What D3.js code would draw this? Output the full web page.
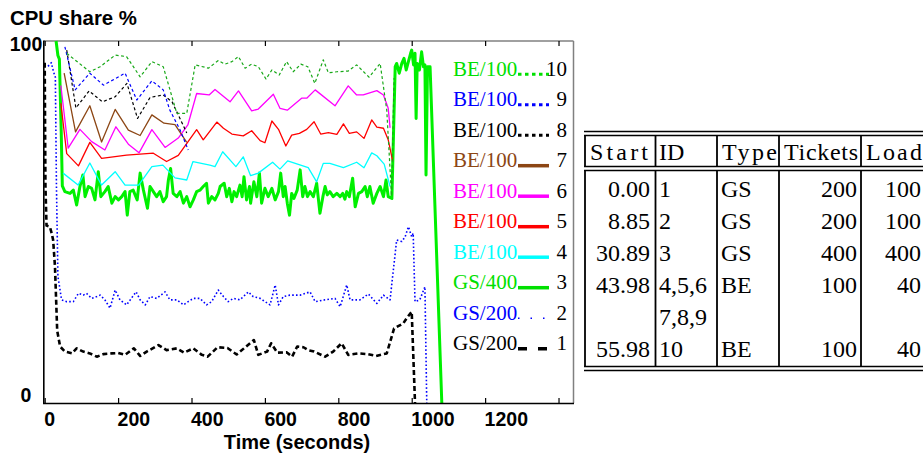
<!DOCTYPE html>
<html><head><meta charset="utf-8">
<script src="https://cdn.jsdelivr.net/npm/d3@7"></script>
<style>body{margin:0;background:#fff} svg{display:block}</style>
</head><body><svg id="c" width="923" height="459"></svg>
<script>
// ---------- data ----------
const xTicks = [0,200,400,600,800,1000,1200,1400];
const xTickLabels = ["0","200","400","600","800","1000","1200",""];
const yTicks = [0,100];
const yTickLabels = ["0","100"];

const gs1 = [[0,94],[2,60],[5,49],[14,48.7],[19,46.9],[23,45],[28,37.7],[34,20],[42,15.6],[55,14.2],[74,13.7],[87,15.1],[105,14.2],[123,13.7],[142,12.8],[160,13.5],[183,13.7],[200,13.8],[219,13.3],[243,15.1],[260,13.0],[278,14.2],[310,16.0],[332,14.6],[360,15.1],[380,13.9],[405,15.1],[428,13.3],[444,12.8],[471,15.4],[498,15.2],[523,13.4],[543,15.1],[570,17.4],[582,13.3],[606,14.2],[617,16.5],[634,13.9],[659,14.0],[674,12.8],[688,15.6],[705,15.4],[718,14.6],[734,14.2],[764,12.8],[786,14.2],[809,16.5],[827,13.3],[855,13.7],[880,13.5],[903,13.0],[932,13.7],[952,20.6],[977,22.0],[986,23.4],[1000,25.2],[1009,0]];
const gs2 = [[9,93],[18,94],[24,91.5],[29,90],[32,60],[36,35],[46,28.5],[60,28.0],[78,28.0],[92,30.3],[105,29.8],[114,30.3],[128,28.9],[142,29.4],[151,29.8],[164,28.5],[178,26.2],[192,31.2],[205,28.5],[223,27.1],[249,30.7],[260,28.5],[274,27.1],[287,29.4],[305,28.9],[328,30.7],[341,28.5],[360,28.5],[378,27.1],[391,28.0],[405,28.9],[423,28.9],[441,27.1],[455,28.0],[473,31.2],[487,29.4],[500,28.0],[514,28.9],[532,28.5],[555,30.7],[568,29.4],[587,28.9],[614,27.1],[628,32.6],[637,27.1],[650,29.4],[668,29.8],[696,29.8],[723,30.7],[737,28.0],[764,28.5],[791,28.9],[805,26.6],[823,32.6],[832,28.5],[859,28.5],[882,30.1],[905,27.5],[923,29.8],[941,28.5],[959,45.0],[973,44.6],[982,45.9],[991,48.7],[1000,45.9],[1004,46.9],[1009,28.0],[1022,28.5],[1036,32.1],[1041,0]];
const gs3 = [[31,100],[36,96],[40,95],[45,75],[48,60],[55,58.4],[69,57.9],[78,58.8],[87,54.7],[96,59.8],[104,63.0],[110,57.0],[119,59.8],[128,59.3],[137,56.1],[146,63.9],[153,57.0],[164,58.4],[173,59.8],[183,55.2],[192,57.0],[201,56.1],[210,57.0],[219,58.4],[225,51.9],[232,58.4],[241,58.8],[252,56.1],[260,63.5],[269,58.8],[280,53.8],[287,59.8],[296,58.4],[305,57.0],[314,58.4],[323,55.6],[332,57.0],[337,61.6],[343,64.8],[350,57.9],[360,57.0],[369,58.4],[378,55.2],[387,57.0],[396,54.2],[405,56.1],[414,58.4],[423,58.8],[432,59.8],[441,60.7],[446,55.2],[455,57.0],[464,56.1],[473,57.9],[478,59.8],[489,60.7],[496,57.0],[503,59.3],[510,55.6],[516,58.4],[523,57.0],[532,60.2],[538,57.0],[543,62.5],[550,56.1],[558,59.8],[561,55.2],[570,61.1],[578,57.0],[585,63.5],[591,55.2],[600,59.3],[609,57.0],[619,59.3],[628,56.1],[637,58.4],[643,63.5],[650,57.0],[655,59.8],[661,55.2],[667,51.9],[673,57.9],[679,56.5],[688,58.8],[696,64.4],[703,57.0],[709,59.8],[716,57.0],[723,58.4],[732,57.0],[741,60.7],[750,52.4],[758,57.0],[764,59.8],[770,57.5],[777,58.4],[786,57.0],[796,57.9],[805,57.0],[812,57.9],[818,56.3],[823,58.4],[830,57.0],[839,62.1],[846,54.2],[855,57.9],[864,58.4],[873,59.8],[879,57.0],[886,59.8],[895,55.2],[905,57.9],[914,59.8],[923,57.0],[930,61.6],[936,57.0],[946,56.5],[955,92.9],[959,93.8],[966,91.1],[973,93.8],[979,95.2],[985,92.0],[991,94.3],[997,96.6],[1000,97.5],[1005,93.4],[1009,96.6],[1012,78.6],[1015,93.8],[1021,92.0],[1027,97.0],[1032,92.9],[1036,93.4],[1039,63.0],[1043,92.9],[1050,92.9],[1082,0]];
const be4 = [[50,63.5],[91,60.2],[123,66.3],[155,60.2],[192,63.9],[219,60.2],[256,60.2],[292,65.3],[322,65.7],[355,62.2],[387,61.6],[404,66.7],[450,65.7],[464,65.3],[485,69.4],[521,65.3],[541,68.0],[561,62.8],[582,63.5],[621,66.5],[641,64.6],[662,66.9],[718,65.0],[741,61.1],[759,66.2],[777,66.2],[814,65.0],[850,66.5],[870,65.0],[891,69.1],[905,68.3],[925,66.0],[941,59.8]];
const be5 = [[44,82.8],[60,68.9],[92,65.5],[123,72.0],[155,67.6],[223,68.5],[296,69.0],[332,66.7],[364,68.4],[414,75.5],[432,72.7],[469,77.6],[487,75.9],[510,74.3],[541,73.8],[564,75.2],[587,72.5],[600,71.9],[619,77.9],[637,75.6],[657,71.0],[673,74.0],[694,74.5],[714,75.6],[734,77.7],[752,74.3],[773,74.7],[796,74.2],[814,77.1],[830,74.5],[850,74.9],[870,73.1],[891,78.2],[905,76.2],[923,75.9],[936,72.7],[948,66.9]];
const be6 = [[44,87.7],[64,70.4],[96,75.6],[128,72.2],[164,69.9],[194,76.3],[228,71.5],[257,69.1],[292,75.5],[328,70.6],[364,73.2],[390,76.8],[414,85.5],[448,85.1],[464,86.6],[505,83.2],[528,86.2],[564,80.7],[582,81.2],[623,85.3],[641,81.4],[661,80.9],[700,84.2],[714,84.2],[737,86.5],[791,82.1],[827,87.6],[850,85.1],[868,85.1],[905,86.3],[923,85.1],[936,81.4],[941,76.0]];
const be7 = [[53,91.1],[84,74.9],[123,82.1],[155,72.1],[192,81.1],[228,75.4],[260,73.9],[292,79.6],[325,77.3],[355,76.9],[387,72.0]];
const be8 = [[60,97.5],[85,81.5],[121,86.2],[157,83.2],[192,84.6],[224,88.3],[253,78.6],[287,84.4],[323,85.1],[347,83.2],[387,74.6]];
const be9 = [[55,98.4],[83,86.5],[123,91.1],[160,87.8],[219,91.1],[251,83.7],[292,89.0],[323,86.5],[341,80.9],[369,75.4],[391,69.9]];
const be10 = [[60,96.6],[123,91.5],[151,92.9],[192,96.1],[223,95.7],[260,90.1],[292,94.3],[323,92.9],[360,80.0],[387,80.0],[410,93.4],[446,92.5],[473,94.6],[491,93.6],[510,94.3],[528,95.7],[546,92.5],[564,93.6],[582,92.9],[603,89.5],[619,92.0],[639,90.6],[659,94.3],[677,91.5],[698,93.6],[717,92.9],[736,88.3],[759,94.8],[773,91.2],[796,91.5],[827,91.7],[850,93.4],[884,90.0],[914,93.8],[932,80.9],[945,57.2],[952,89.8]];

const legendIds = ["10","9","8","7","6","5","4","3","2","1"];
const legendLabels = ["BE/100","BE/100","BE/100","BE/100","BE/100","BE/100","BE/100","GS/400","GS/200","GS/200"];

const tableHeader = ["Start","ID","Type","Tickets","Load"];
const tableRows = [
  ["0.00","1","GS","200","100"],
  ["8.85","2","GS","200","100"],
  ["30.89","3","GS","400","400"],
  ["43.98","4,5,6","BE","100","40"],
  ["","7,8,9","","",""],
  ["55.98","10","BE","100","40"]
];

// ---------- styles ----------
const styles = {
  "1":  {data: gs1, color:"#000000", lw:2.6, dash:"5,3", legColor:"#000000", legDash:"9,11", legW:3.5},
  "2":  {data: gs2, color:"#0000ff", lw:1.6, dash:"1.6,2.2", legColor:"#0000ff", legDash:"1.5,11", legW:1.5},
  "3":  {data: gs3, color:"#00f000", lw:3, dash:null, legColor:"#00e000", legDash:null, legW:3.5},
  "4":  {data: be4, color:"#00ffff", lw:1.3, dash:null, legColor:"#00ffff", legDash:null, legW:3.5},
  "5":  {data: be5, color:"#ff0000", lw:1.3, dash:null, legColor:"#ff0000", legDash:null, legW:3.5},
  "6":  {data: be6, color:"#ff00ff", lw:1.3, dash:null, legColor:"#ff00ff", legDash:null, legW:3.5},
  "7":  {data: be7, color:"#8c4614", lw:1.3, dash:null, legColor:"#8c4614", legDash:null, legW:3.5},
  "8":  {data: be8, color:"#000000", lw:1.2, dash:"3,2.5", legColor:"#000000", legDash:"3.5,3.5", legW:3},
  "9":  {data: be9, color:"#0000ff", lw:1.2, dash:"3,2.5", legColor:"#0000ff", legDash:"3.5,3.5", legW:3},
  "10": {data: be10, color:"#18a818", lw:1.2, dash:"3,2.5", legColor:"#00e000", legDash:"3.5,3.5", legW:3}
};

// ---------- chart ----------
const svg = d3.select("#c");
const x = d3.scaleLinear().domain([0,1440]).range([44.7,573.2]);
const y = d3.scaleLinear().domain([0,100]).range([403,41]);
const sans = "'Liberation Sans', Arial, Helvetica, sans-serif";
const serif = "'Liberation Serif', 'Times New Roman', serif";

svg.append("clipPath").attr("id","clip").append("rect")
  .attr("x",44).attr("y",40).attr("width",530).attr("height",364);

// frame
svg.append("line").attr("x1",44).attr("x2",573.5).attr("y1",41).attr("y2",41).attr("stroke","#808080").attr("stroke-width",1.5);
svg.append("line").attr("x1",573.5).attr("x2",573.5).attr("y1",41).attr("y2",403).attr("stroke","#808080").attr("stroke-width",1.5);

// lines
const line = d3.line().x(d=>x(d[0])).y(d=>y(d[1]));
const plotG = svg.append("g").attr("clip-path","url(#clip)");
["1","2","3","4","5","6","7","8","9","10"].forEach(k=>{
  const s = styles[k];
  plotG.append("path").datum(s.data).attr("d",line)
    .attr("fill","none").attr("stroke",s.color).attr("stroke-width",s.lw)
    .attr("stroke-linejoin","round")
    .attr("stroke-dasharray",s.dash);
});

// axes
const xb = svg.append("g").attr("transform","translate(0,403)")
  .call(d3.axisBottom(x).tickValues(xTicks).tickFormat((d,i)=>xTickLabels[i]).tickSizeInner(-5).tickSizeOuter(0));
xb.select(".domain").remove();
xb.selectAll("line").attr("stroke","#000").attr("stroke-width",1.2);
xb.selectAll("text").attr("y",22.5).attr("dy",0).attr("x",-1).attr("text-anchor","start")
  .attr("font-family",sans).attr("font-weight","bold").attr("font-size",19.5).attr("fill","#000");
const xt = svg.append("g").attr("transform","translate(0,41)")
  .call(d3.axisTop(x).tickValues(xTicks).tickFormat("").tickSizeInner(-5).tickSizeOuter(0));
xt.select(".domain").remove();
xt.selectAll("line").attr("stroke","#000").attr("stroke-width",1.2);

const yl = svg.append("g").attr("transform","translate(44,0)")
  .call(d3.axisLeft(y).tickValues(yTicks).tickFormat((d,i)=>yTickLabels[i]).tickSize(0));
yl.select(".domain").remove();
yl.selectAll("text").attr("x",-18).attr("dy",0).attr("y",d=>d===100?9.5:-1.5).attr("text-anchor","middle")
  .attr("font-family",sans).attr("font-weight","bold").attr("font-size",19.5).attr("fill","#000");

svg.append("line").attr("x1",43.8).attr("x2",43.8).attr("y1",40.5).attr("y2",403.8).attr("stroke","#000").attr("stroke-width",1.6);
svg.append("line").attr("x1",43).attr("x2",574).attr("y1",403.5).attr("y2",403.5).attr("stroke","#000").attr("stroke-width",1.6);

// titles
svg.append("text").attr("x",10).attr("y",25).text("CPU share %")
  .attr("font-family",sans).attr("font-weight","bold").attr("font-size",19.5)
  .attr("textLength",127).attr("lengthAdjust","spacingAndGlyphs");
svg.append("text").attr("x",297).attr("y",449).attr("text-anchor","middle").text("Time (seconds)")
  .attr("font-family",sans).attr("font-weight","bold").attr("font-size",20);

// legend
const leg = svg.append("g");
legendIds.forEach((id,i)=>{
  const s = styles[id];
  const by = 75.7 + i*30.5;
  leg.append("text").attr("x",453).attr("y",by).text(legendLabels[i])
    .attr("font-family",serif).attr("font-size",21).attr("fill",s.legColor);
  leg.append("line").attr("x1",518).attr("x2",549).attr("y1",by-1.5).attr("y2",by-1.5)
    .attr("stroke",s.legColor).attr("stroke-width",s.legW).attr("stroke-dasharray",s.legDash);
  leg.append("text").attr("x",567).attr("y",by).attr("text-anchor","end").text(id)
    .attr("font-family",serif).attr("font-size",21).attr("fill","#000");
});

// ---------- table ----------
const tb = svg.append("g");
const tLeft = 585, tRight = 930;
const colSep = [585, 655.5, 717, 779, 861];
const hRules = [131.5, 135.5, 166.5, 170.5, 366.5, 370.5];
hRules.forEach(yy=>tb.append("line").attr("x1",tLeft-1).attr("x2",tRight).attr("y1",yy).attr("y2",yy).attr("stroke","#000").attr("stroke-width",1.6));
colSep.forEach(xx=>{
  tb.append("line").attr("x1",xx).attr("x2",xx).attr("y1",135.5).attr("y2",166.5).attr("stroke","#000").attr("stroke-width",1.8);
  tb.append("line").attr("x1",xx).attr("x2",xx).attr("y1",170.5).attr("y2",366.5).attr("stroke","#000").attr("stroke-width",1.8);
});
const colAnchor = [{x:650,a:"end"},{x:659,a:"start"},{x:721,a:"start"},{x:857,a:"end"},{x:921,a:"end"}];
const headLen = [58,null,55,74,56];
const headX = [{x:590,a:"start"},{x:659,a:"start"},{x:722,a:"start"},{x:784,a:"start"},{x:866,a:"start"}];
tableHeader.forEach((h,j)=>{
  const t = tb.append("text").attr("x",headX[j].x).attr("y",160).attr("text-anchor",headX[j].a).text(h)
    .attr("font-family",serif).attr("font-size",24);
  if (headLen[j]) t.attr("textLength",headLen[j]).attr("lengthAdjust","spacing");
});
tableRows.forEach((r,i)=>{
  const by = 197 + i*32;
  r.forEach((c,j)=>{
    if(!c) return;
    tb.append("text").attr("x",colAnchor[j].x).attr("y",by).attr("text-anchor",colAnchor[j].a).text(c)
      .attr("font-family",serif).attr("font-size",24);
  });
});
</script></body></html>
